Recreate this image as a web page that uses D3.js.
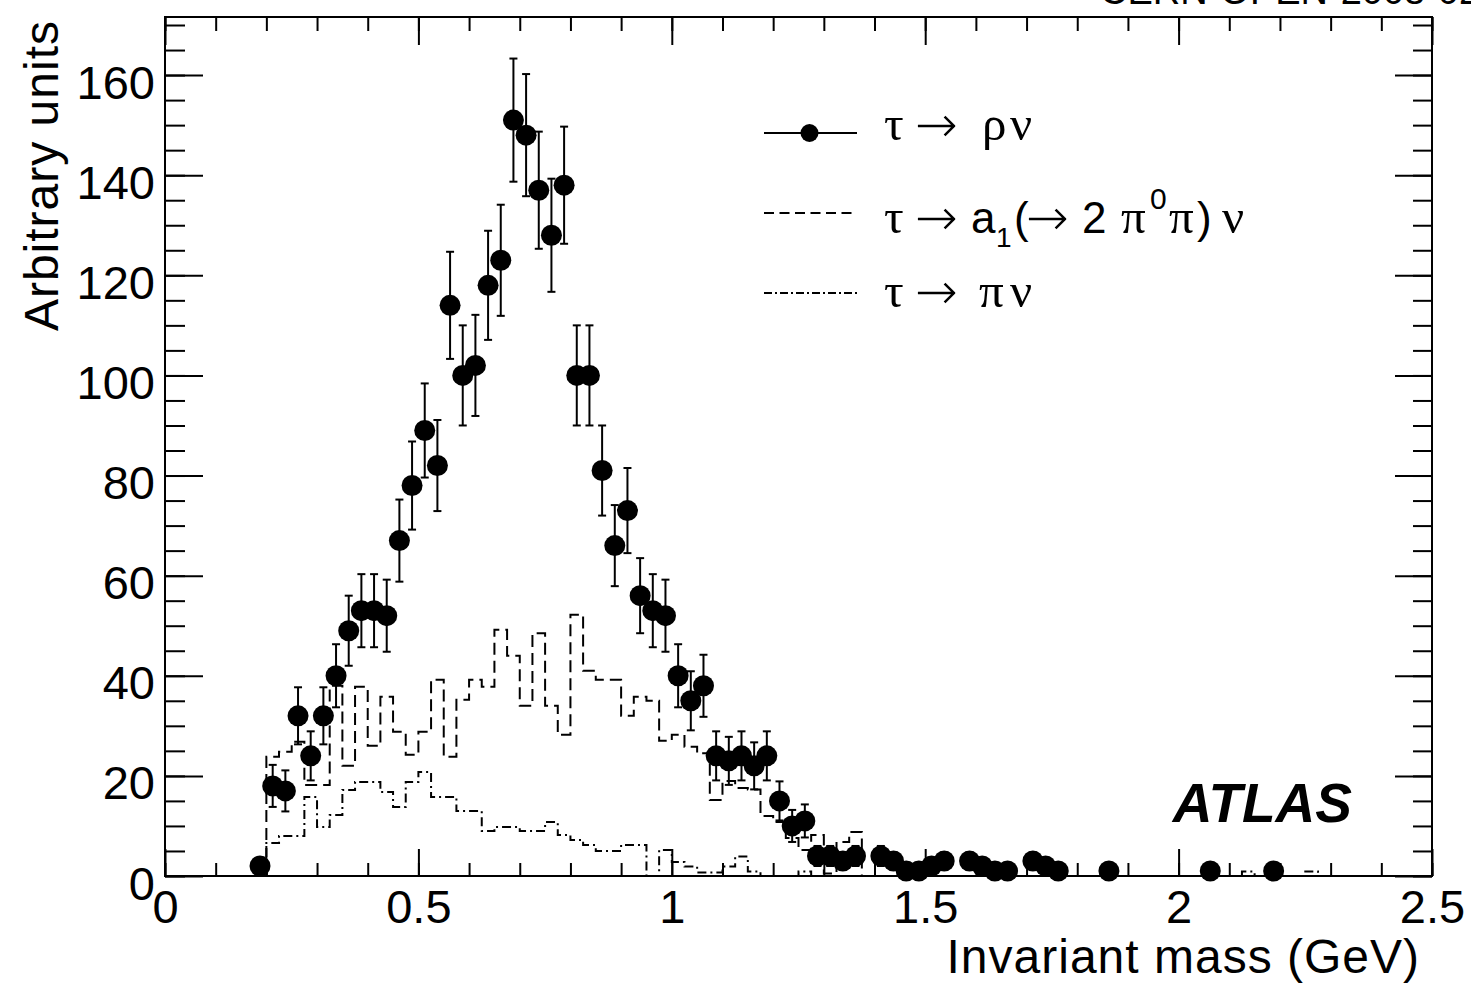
<!DOCTYPE html>
<html>
<head>
<meta charset="utf-8">
<script src="https://cdn.jsdelivr.net/npm/d3@7"></script>
<style>
  body { margin: 0; background: #fff; }
  svg { display: block; font-family: "Liberation Sans", Arial, Helvetica, sans-serif; }
</style>
</head>
<body>
<svg id="chart"></svg>
<script>
// tau -> rho nu : bin centres, contents and errors
const rhoMass = [
  0.1875, 0.2125, 0.2375, 0.2625, 0.2875, 0.3125, 0.3375, 0.3625, 0.3875, 0.4125,
  0.4375, 0.4625, 0.4875, 0.5125, 0.5375, 0.5625, 0.5875, 0.6125, 0.6375, 0.6625,
  0.6875, 0.7125, 0.7375, 0.7625, 0.7875, 0.8125, 0.8375, 0.8625, 0.8875, 0.9125,
  0.9375, 0.9625, 0.9875, 1.0125, 1.0375, 1.0625, 1.0875, 1.1125, 1.1375, 1.1625,
  1.1875, 1.2125, 1.2375, 1.2625, 1.2875, 1.3125, 1.3375, 1.3625, 1.4125, 1.4375,
  1.4625, 1.4875, 1.5125, 1.5375, 1.5875, 1.6125, 1.6375, 1.6625, 1.7125, 1.7375,
  1.7625, 1.8625, 2.0625, 2.1875
];
const rhoCounts = [
  2, 18, 17, 32, 24, 32, 40, 49, 53, 53,
  52, 67, 78, 89, 82, 114, 100, 102, 118, 123,
  151, 148, 137, 128, 138, 100, 100, 81, 66, 73,
  56, 53, 52, 40, 35, 38, 24, 23, 24, 22,
  24, 15, 10, 11, 4, 4, 3, 4, 4, 3,
  1, 1, 2, 3, 3, 2, 1, 1, 3, 2,
  1, 1, 1, 1
];
const rhoErrors = [
  1.4, 4.2, 4.1, 5.7, 4.9, 5.7, 6.3, 7.0, 7.3, 7.3,
  7.2, 8.2, 8.8, 9.4, 9.1, 10.7, 10.0, 10.1, 10.9, 11.1,
  12.3, 12.2, 11.7, 11.3, 11.7, 10.0, 10.0, 9.0, 8.1, 8.5,
  7.5, 7.3, 7.2, 6.3, 5.9, 6.2, 4.9, 4.8, 4.9, 4.7,
  4.9, 3.9, 3.2, 3.3, 2.0, 2.0, 1.7, 2.0, 2.0, 1.7,
  1.0, 1.0, 1.4, 1.7, 1.7, 1.4, 1.0, 1.0, 1.7, 1.4,
  1.0, 1.0, 1.0, 1.0
];

// histogram bin edges shared by the two MC shapes
const binEdges = [
  0.2, 0.225, 0.25, 0.275, 0.3, 0.325, 0.35, 0.375, 0.4, 0.425,
  0.45, 0.475, 0.5, 0.525, 0.55, 0.575, 0.6, 0.625, 0.65, 0.675,
  0.7, 0.725, 0.75, 0.775, 0.8, 0.825, 0.85, 0.875, 0.9, 0.925,
  0.95, 0.975, 1.0, 1.025, 1.05, 1.075, 1.1, 1.125, 1.15, 1.175,
  1.2, 1.225, 1.25, 1.275, 1.3, 1.325, 1.35, 1.375, 1.4, 1.425,
  1.45, 1.475, 1.5, 1.525, 1.55, 1.575, 1.6, 1.625, 1.65, 1.675,
  1.7, 1.725, 1.75, 1.775, 1.8, 1.825, 1.85, 1.875, 1.9, 1.925,
  1.95, 1.975, 2.0, 2.025, 2.05, 2.075, 2.1, 2.125, 2.15, 2.175,
  2.2, 2.225, 2.25, 2.275, 2.3
];
// tau -> a1(-> 2 pi0 pi) nu
const a1Counts = [
  23.8, 24.8, 26.8, 18.2, 18.2, 38, 22, 37.8, 26, 35.8,
  28.8, 24.2, 28.8, 39.2, 23.8, 35.2, 39.2, 37.8, 49.2, 44,
  34, 48.5, 34, 28.2, 52.2, 41, 39.2, 39.2, 32, 35.8,
  35, 27, 28.2, 25.8, 24.5, 15.2, 19, 17.6, 17.3, 12,
  10.8, 7.6, 5.2, 8.2, 0.5, 6.8, 8.8, 0, 0, 0,
  0, 0, 0, 0, 0, 0, 0, 0, 0, 0,
  0, 0, 0, 0, 0, 0, 0, 0, 0, 0,
  0, 0, 0, 0, 0, 0, 0, 0, 0, 0,
  0, 0, 0, 0
];
// tau -> pi nu
const piCounts = [
  6.6, 8, 8, 15.8, 9.8, 12.2, 17.2, 18.8, 18.8, 16.8,
  13.8, 18.8, 20.8, 15.8, 15.8, 13, 13, 9, 9.8, 9.8,
  9, 9, 10.8, 8.2, 7.2, 6.2, 5, 5, 6.2, 6.2,
  0, 5.2, 2.8, 1.9, 0.7, 0.7, 1.9, 3.9, 0.9, 0,
  0, 0, 0.9, 0, 0, 0, 0, 0, 0, 0,
  0, 0, 0, 0, 0, 0, 0, 0, 0, 0,
  0, 0, 0, 0, 0, 0, 0, 0, 0, 0,
  0, 0, 0, 0, 0, 0, 0, 0.9, 0, 0,
  0, 0, 0.9, 0
];

// axis ticks
const xMajorTicks = [0, 0.5, 1, 1.5, 2, 2.5];
const xMinorTicks = [0, 0.1, 0.2, 0.3, 0.4, 0.5, 0.6, 0.7, 0.8, 0.9, 1, 1.1, 1.2, 1.3,
  1.4, 1.5, 1.6, 1.7, 1.8, 1.9, 2, 2.1, 2.2, 2.3, 2.4, 2.5];
const yMajorTicks = [0, 20, 40, 60, 80, 100, 120, 140, 160];
const yMinorTicks = [0, 5, 10, 15, 20, 25, 30, 35, 40, 45, 50, 55, 60, 65, 70, 75, 80, 85,
  90, 95, 100, 105, 110, 115, 120, 125, 130, 135, 140, 145, 150, 155, 160, 165, 170];

const W = 1471, H = 988;
const frame = { left: 165, right: 1432, top: 17, bottom: 876 };
const sans = '"Liberation Sans", Arial, Helvetica, sans-serif';
const serif = '"Liberation Serif", "Times New Roman", serif';
const arrowFont = '"DejaVu Sans", sans-serif';

const svg = d3.select("#chart").attr("width", W).attr("height", H);
svg.append("rect").attr("width", W).attr("height", H).attr("fill", "#fff");

const x = d3.scaleLinear().domain([0, 2.5]).range([frame.left, frame.right]);
const y = d3.scaleLinear().domain([0, 171.6]).range([frame.bottom, frame.top]);

// ---- histograms (step outlines)
const step = d3.line()
  .x(d => x(d[0]))
  .y(d => y(d[1]))
  .curve(d3.curveStepAfter);

function histPoints(counts) {
  const pts = [[binEdges[0], 0]];
  counts.forEach((c, i) => pts.push([binEdges[i], c]));
  pts.push([binEdges[counts.length], 0]);
  return pts;
}

svg.append("path")
  .attr("d", step(histPoints(a1Counts)))
  .attr("fill", "none")
  .attr("stroke", "#000")
  .attr("stroke-width", 2)
  .attr("stroke-dasharray", "12,6");

svg.append("path")
  .attr("d", step(histPoints(piCounts)))
  .attr("fill", "none")
  .attr("stroke", "#000")
  .attr("stroke-width", 2)
  .attr("stroke-dasharray", "9,4,2,4");

// ---- axes, ROOT style ticks inside the frame on all four sides
function styleAxis(g) {
  g.select(".domain").remove();
  g.selectAll(".tick line").attr("stroke", "#000").attr("stroke-width", 2);
}

const xAxisG = svg.append("g")
  .attr("transform", `translate(0,${frame.bottom})`)
  .call(d3.axisBottom(x).tickValues(xMajorTicks).tickSize(-27).tickSizeOuter(0)
    .tickFormat(d3.format("~g")))
  .call(styleAxis);
xAxisG.selectAll(".tick text")
  .attr("y", 47).attr("dy", 0)
  .attr("font-size", 47).attr("font-family", sans).attr("fill", "#000");

svg.append("g")
  .attr("transform", `translate(0,${frame.bottom})`)
  .call(d3.axisBottom(x).tickValues(xMinorTicks).tickSize(-13).tickFormat(""))
  .call(styleAxis);

svg.append("g")
  .attr("transform", `translate(0,${frame.top})`)
  .call(d3.axisTop(x).tickValues(xMajorTicks).tickSize(-28).tickFormat(""))
  .call(styleAxis);
svg.append("g")
  .attr("transform", `translate(0,${frame.top})`)
  .call(d3.axisTop(x).tickValues(xMinorTicks).tickSize(-14).tickFormat(""))
  .call(styleAxis);

const yAxisG = svg.append("g")
  .attr("transform", `translate(${frame.left},0)`)
  .call(d3.axisLeft(y).tickValues(yMajorTicks).tickSize(-38).tickPadding(10)
    .tickFormat(d3.format("d")))
  .call(styleAxis);
yAxisG.selectAll(".tick text")
  .attr("y", 23).attr("dy", 0)
  .attr("font-size", 47).attr("font-family", sans).attr("fill", "#000");

svg.append("g")
  .attr("transform", `translate(${frame.left},0)`)
  .call(d3.axisLeft(y).tickValues(yMinorTicks).tickSize(-20).tickFormat(""))
  .call(styleAxis);

svg.append("g")
  .attr("transform", `translate(${frame.right},0)`)
  .call(d3.axisRight(y).tickValues(yMajorTicks).tickSize(-37).tickFormat(""))
  .call(styleAxis);
svg.append("g")
  .attr("transform", `translate(${frame.right},0)`)
  .call(d3.axisRight(y).tickValues(yMinorTicks).tickSize(-19).tickFormat(""))
  .call(styleAxis);

// frame
svg.append("rect")
  .attr("x", frame.left).attr("y", frame.top)
  .attr("width", frame.right - frame.left)
  .attr("height", frame.bottom - frame.top)
  .attr("fill", "none")
  .attr("stroke", "#000")
  .attr("stroke-width", 2);

// ---- data points with error bars
const rho = rhoMass.map((m, i) => ({ m: m, v: rhoCounts[i], e: rhoErrors[i] }));
const capHalf = 4;

const errG = svg.append("g").attr("stroke", "#000").attr("stroke-width", 2);
errG.selectAll(".err")
  .data(rho)
  .enter()
  .append("line")
  .attr("x1", d => x(d.m)).attr("x2", d => x(d.m))
  .attr("y1", d => y(d.v - d.e)).attr("y2", d => y(d.v + d.e));
errG.selectAll(".capTop")
  .data(rho)
  .enter()
  .append("line")
  .attr("x1", d => x(d.m) - capHalf).attr("x2", d => x(d.m) + capHalf)
  .attr("y1", d => y(d.v + d.e)).attr("y2", d => y(d.v + d.e));
errG.selectAll(".capBot")
  .data(rho)
  .enter()
  .append("line")
  .attr("x1", d => x(d.m) - capHalf).attr("x2", d => x(d.m) + capHalf)
  .attr("y1", d => y(d.v - d.e)).attr("y2", d => y(d.v - d.e));

svg.append("g").selectAll("circle")
  .data(rho)
  .enter()
  .append("circle")
  .attr("cx", d => x(d.m))
  .attr("cy", d => y(d.v))
  .attr("r", 10.5)
  .attr("fill", "#000");

// ---- legend
const legend = svg.append("g");
const lx1 = 764, lx2 = 857;

legend.append("line")
  .attr("x1", lx1).attr("x2", lx2).attr("y1", 133).attr("y2", 133)
  .attr("stroke", "#000").attr("stroke-width", 2);
legend.append("circle").attr("cx", (lx1 + lx2) / 2 - 1).attr("cy", 133).attr("r", 9).attr("fill", "#000");

legend.append("line")
  .attr("x1", lx1).attr("x2", lx2).attr("y1", 213).attr("y2", 213)
  .attr("stroke", "#000").attr("stroke-width", 2)
  .attr("stroke-dasharray", "10,5.5");

legend.append("line")
  .attr("x1", lx1).attr("x2", lx2).attr("y1", 293).attr("y2", 293)
  .attr("stroke", "#000").attr("stroke-width", 2)
  .attr("stroke-dasharray", "8,3,2,3");

function legendText(baseY, pieces) {
  const t = legend.append("text").attr("y", baseY).attr("font-size", 44).attr("fill", "#000");
  pieces.forEach(p => {
    t.append("tspan")
      .attr("x", p.x)
      .attr("y", baseY + (p.dy || 0))
      .attr("font-family", p.font || sans)
      .attr("font-weight", p.weight || null)
      .attr("font-size", p.size || 44)
      .text(p.s);
  });
}

const arrow = (xPos) => ({ s: "\u2192", x: xPos, font: arrowFont, size: 51, weight: 200, dy: 2 });
const greek = (s, xPos) => ({ s: s, x: xPos, font: serif, size: 49 });

legendText(140, [
  greek("\u03C4", 884),
  arrow(915),
  greek("\u03C1", 982),
  greek("\u03BD", 1010)
]);
legendText(233, [
  greek("\u03C4", 884),
  arrow(915),
  { s: "a", x: 971 },
  { s: "1", x: 996, dy: 14, size: 28 },
  { s: "(", x: 1014 },
  arrow(1026),
  { s: "2", x: 1082 },
  greek("\u03C0", 1121),
  { s: "0", x: 1150, dy: -24, size: 30 },
  greek("\u03C0", 1169),
  { s: ")", x: 1197 },
  greek("\u03BD", 1222)
]);
legendText(307, [
  greek("\u03C4", 884),
  arrow(915),
  greek("\u03C0", 979),
  greek("\u03BD", 1010)
]);

// ---- titles and labels
svg.append("text")
  .attr("x", 1420).attr("y", 973)
  .attr("text-anchor", "end")
  .attr("font-size", 48)
  .attr("letter-spacing", 1)
  .attr("fill", "#000")
  .text("Invariant mass (GeV)");

svg.append("text")
  .attr("transform", "translate(58,20) rotate(-90)")
  .attr("text-anchor", "end")
  .attr("font-size", 48)
  .attr("letter-spacing", 1)
  .attr("fill", "#000")
  .text("Arbitrary units");

svg.append("text")
  .attr("x", 1352).attr("y", 822)
  .attr("text-anchor", "end")
  .attr("font-size", 55)
  .attr("font-weight", "bold")
  .attr("font-style", "italic")
  .attr("fill", "#000")
  .text("ATLAS");

svg.append("text")
  .attr("x", 1100).attr("y", 4)
  .attr("font-size", 38)
  .attr("fill", "#000")
  .text("CERN-OPEN-2008-020");
</script>
</body>
</html>
